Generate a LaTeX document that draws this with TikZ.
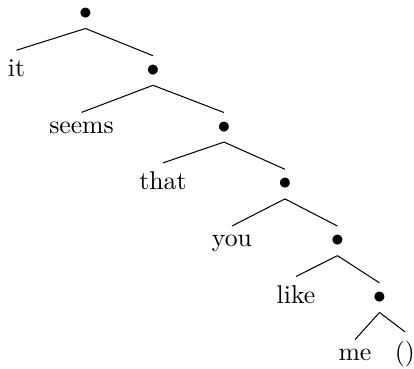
\documentclass[tikz,border=0pt]{standalone}
\usepackage{tikz}

\begin{document}
\begin{tikzpicture}[x=1pt, y=-1pt,
    dot/.style={anchor=base},
    word/.style={anchor=base}]
  \useasboundingbox (0,0) rectangle (161.1,143.2);
  \node[dot] (b0) at (33.27,7.55) {$\bullet$};
  \node[word] (it) at (6.42,29.65) {it};
  \node[dot] (b1) at (59.53,29.65) {$\bullet$};
  \node[word] (seems) at (31.71,51.75) {seems};
  \node[dot] (b2) at (87.16,51.75) {$\bullet$};
  \node[word] (that) at (63.42,73.85) {that};
  \node[dot] (b3) at (110.89,73.85) {$\bullet$};
  \node[word] (you) at (90.27,95.95) {you};
  \node[dot] (b4) at (131.32,95.95) {$\bullet$};
  \node[word] (like) at (115.18,118.05) {like};
  \node[dot] (b5) at (147.67,118.05) {$\bullet$};
  \node[word] (me) at (138.13,140.15) {me};
  \node[word] (nil) at (157.59,140.15) {()};
  \foreach \p/\c in {b0/it, b0/b1, b1/seems, b1/b2, b2/that, b2/b3,
                     b3/you, b3/b4, b4/like, b4/b5, b5/me, b5/nil}
    \draw (\p.south) -- (\c.north);
\end{tikzpicture}
\end{document}
